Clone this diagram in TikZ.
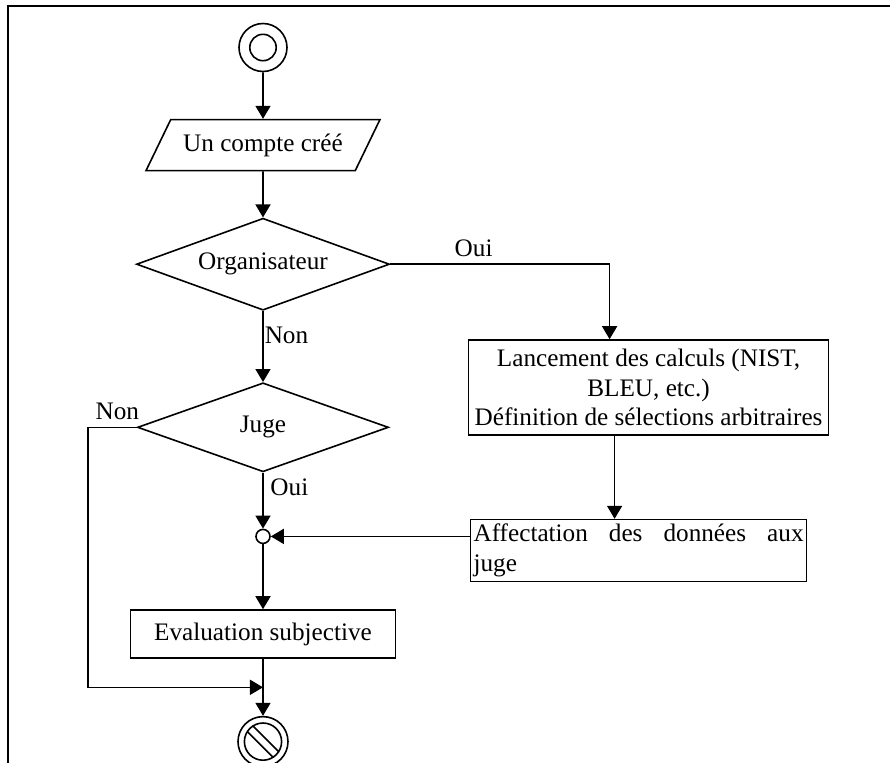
\documentclass[tikz,border=0pt]{standalone}
\usepackage{fontspec}
\setmainfont{Liberation Serif}
\usetikzlibrary{positioning,arrows.meta,shapes.geometric,calc}

\begin{document}
\begin{tikzpicture}[
    >=Triangle,
    every node/.style={font=\fontsize{12.6}{14.8}\selectfont},
    startnode/.style={
        circle, draw, line width=0.8pt, minimum size=24pt, inner sep=0pt,
        path picture={\draw[line width=0.8pt] (path picture bounding box.center) circle (6.6pt);}
    },
    endnode/.style={
        circle, draw, line width=0.8pt, minimum size=25pt, inner sep=0pt,
        path picture={
            \draw[line width=0.8pt] (path picture bounding box.center) circle (9.3pt);
            \draw[line width=0.8pt, shift={(path picture bounding box.center)}]
                (-4.97pt,7.8pt) -- (7.8pt,-4.97pt) (-7.8pt,4.97pt) -- (4.97pt,-7.8pt);
        }
    },
    io/.style={
        trapezium, trapezium left angle=47, trapezium right angle=133,
        trapezium stretches=true, draw, line width=0.8pt,
        minimum width=117pt, minimum height=25.5pt, inner sep=0pt
    },
    decision/.style={
        diamond, draw, line width=0.8pt, aspect=2.8, inner sep=0pt
    },
    procbox/.style={
        draw, line width=0.8pt, inner xsep=3pt, inner ysep=2pt, align=center
    },
    joint/.style={
        circle, draw, line width=0.8pt, fill=white, minimum size=7pt, inner sep=0pt
    },
    arr/.style={-{Triangle[length=6.5pt, width=7.5pt]}, line width=0.8pt},
]
\useasboundingbox (-131.5pt,-357.25pt) rectangle (313.5pt,23.75pt);

% === Frame ===
\draw[line width=1pt] (-127.5pt,-360pt) -- (-127.5pt,21pt) -- (320pt,21pt);

% === Main column ===
\node[startnode] (init) at (0,0) {};
\node[io, below=23.25pt of init] (acct) {Un compte créé};
\draw[arr] (init) -- (acct);

\node[decision, minimum width=126.5pt, minimum height=46pt, below=23pt of acct] (qorga) {Organisateur};
\draw[arr] (acct) -- (qorga);

\node[decision, minimum width=125.5pt, minimum height=44.5pt, below=35.5pt of qorga] (qjuge) {Juge};
\draw[arr] (qorga) -- node[pos=0.34, right, inner sep=0.5pt] {Non} (qjuge);

\node[joint, below=28pt of qjuge] (join) {};
\draw[arr] (qjuge) -- node[pos=0.26, right] {Oui} (join);

\node[procbox, minimum width=132.5pt, minimum height=24pt, below=32.5pt of join] (eval) {Evaluation subjective};
\draw[arr] (join) -- (eval);

\node[endnode, below=28.5pt of eval] (fin) {};
\draw[arr] (eval) -- (fin);

% === Organiser branch ===
\node[procbox, inner xsep=1pt, minimum width=180pt, minimum height=47.5pt, below right=37.5pt and 38.75pt of qorga.east] (runcalc)
    {Lancement des calculs (NIST,\\BLEU, etc.)\\D\'efinition de s\'elections arbitraires};
\draw[arr] (qorga.east) -| node[pos=0.19, above] {Oui} ([xshift=-19.5pt]runcalc.north);

\node[procbox, align=justify, text width=165pt, inner xsep=1.5pt, minimum height=31pt,
    below=41.5pt of runcalc.south west, anchor=north west, xshift=1pt] (assign)
    {Affectation des donn\'ees aux\linebreak juge};
\draw[arr] ([xshift=-17pt]runcalc.south) -- ([xshift=-12pt]assign.north);
\draw[arr] (join -| assign.west) -- (join);

% === Non judge ===
\coordinate (merge) at ($(eval.south)!0.5!(fin.north)$);
\draw[arr] (qjuge.west) -- ++(-24.25pt,0) node[pos=0.4, above] {Non} |- (merge);

\end{tikzpicture}
\end{document}
